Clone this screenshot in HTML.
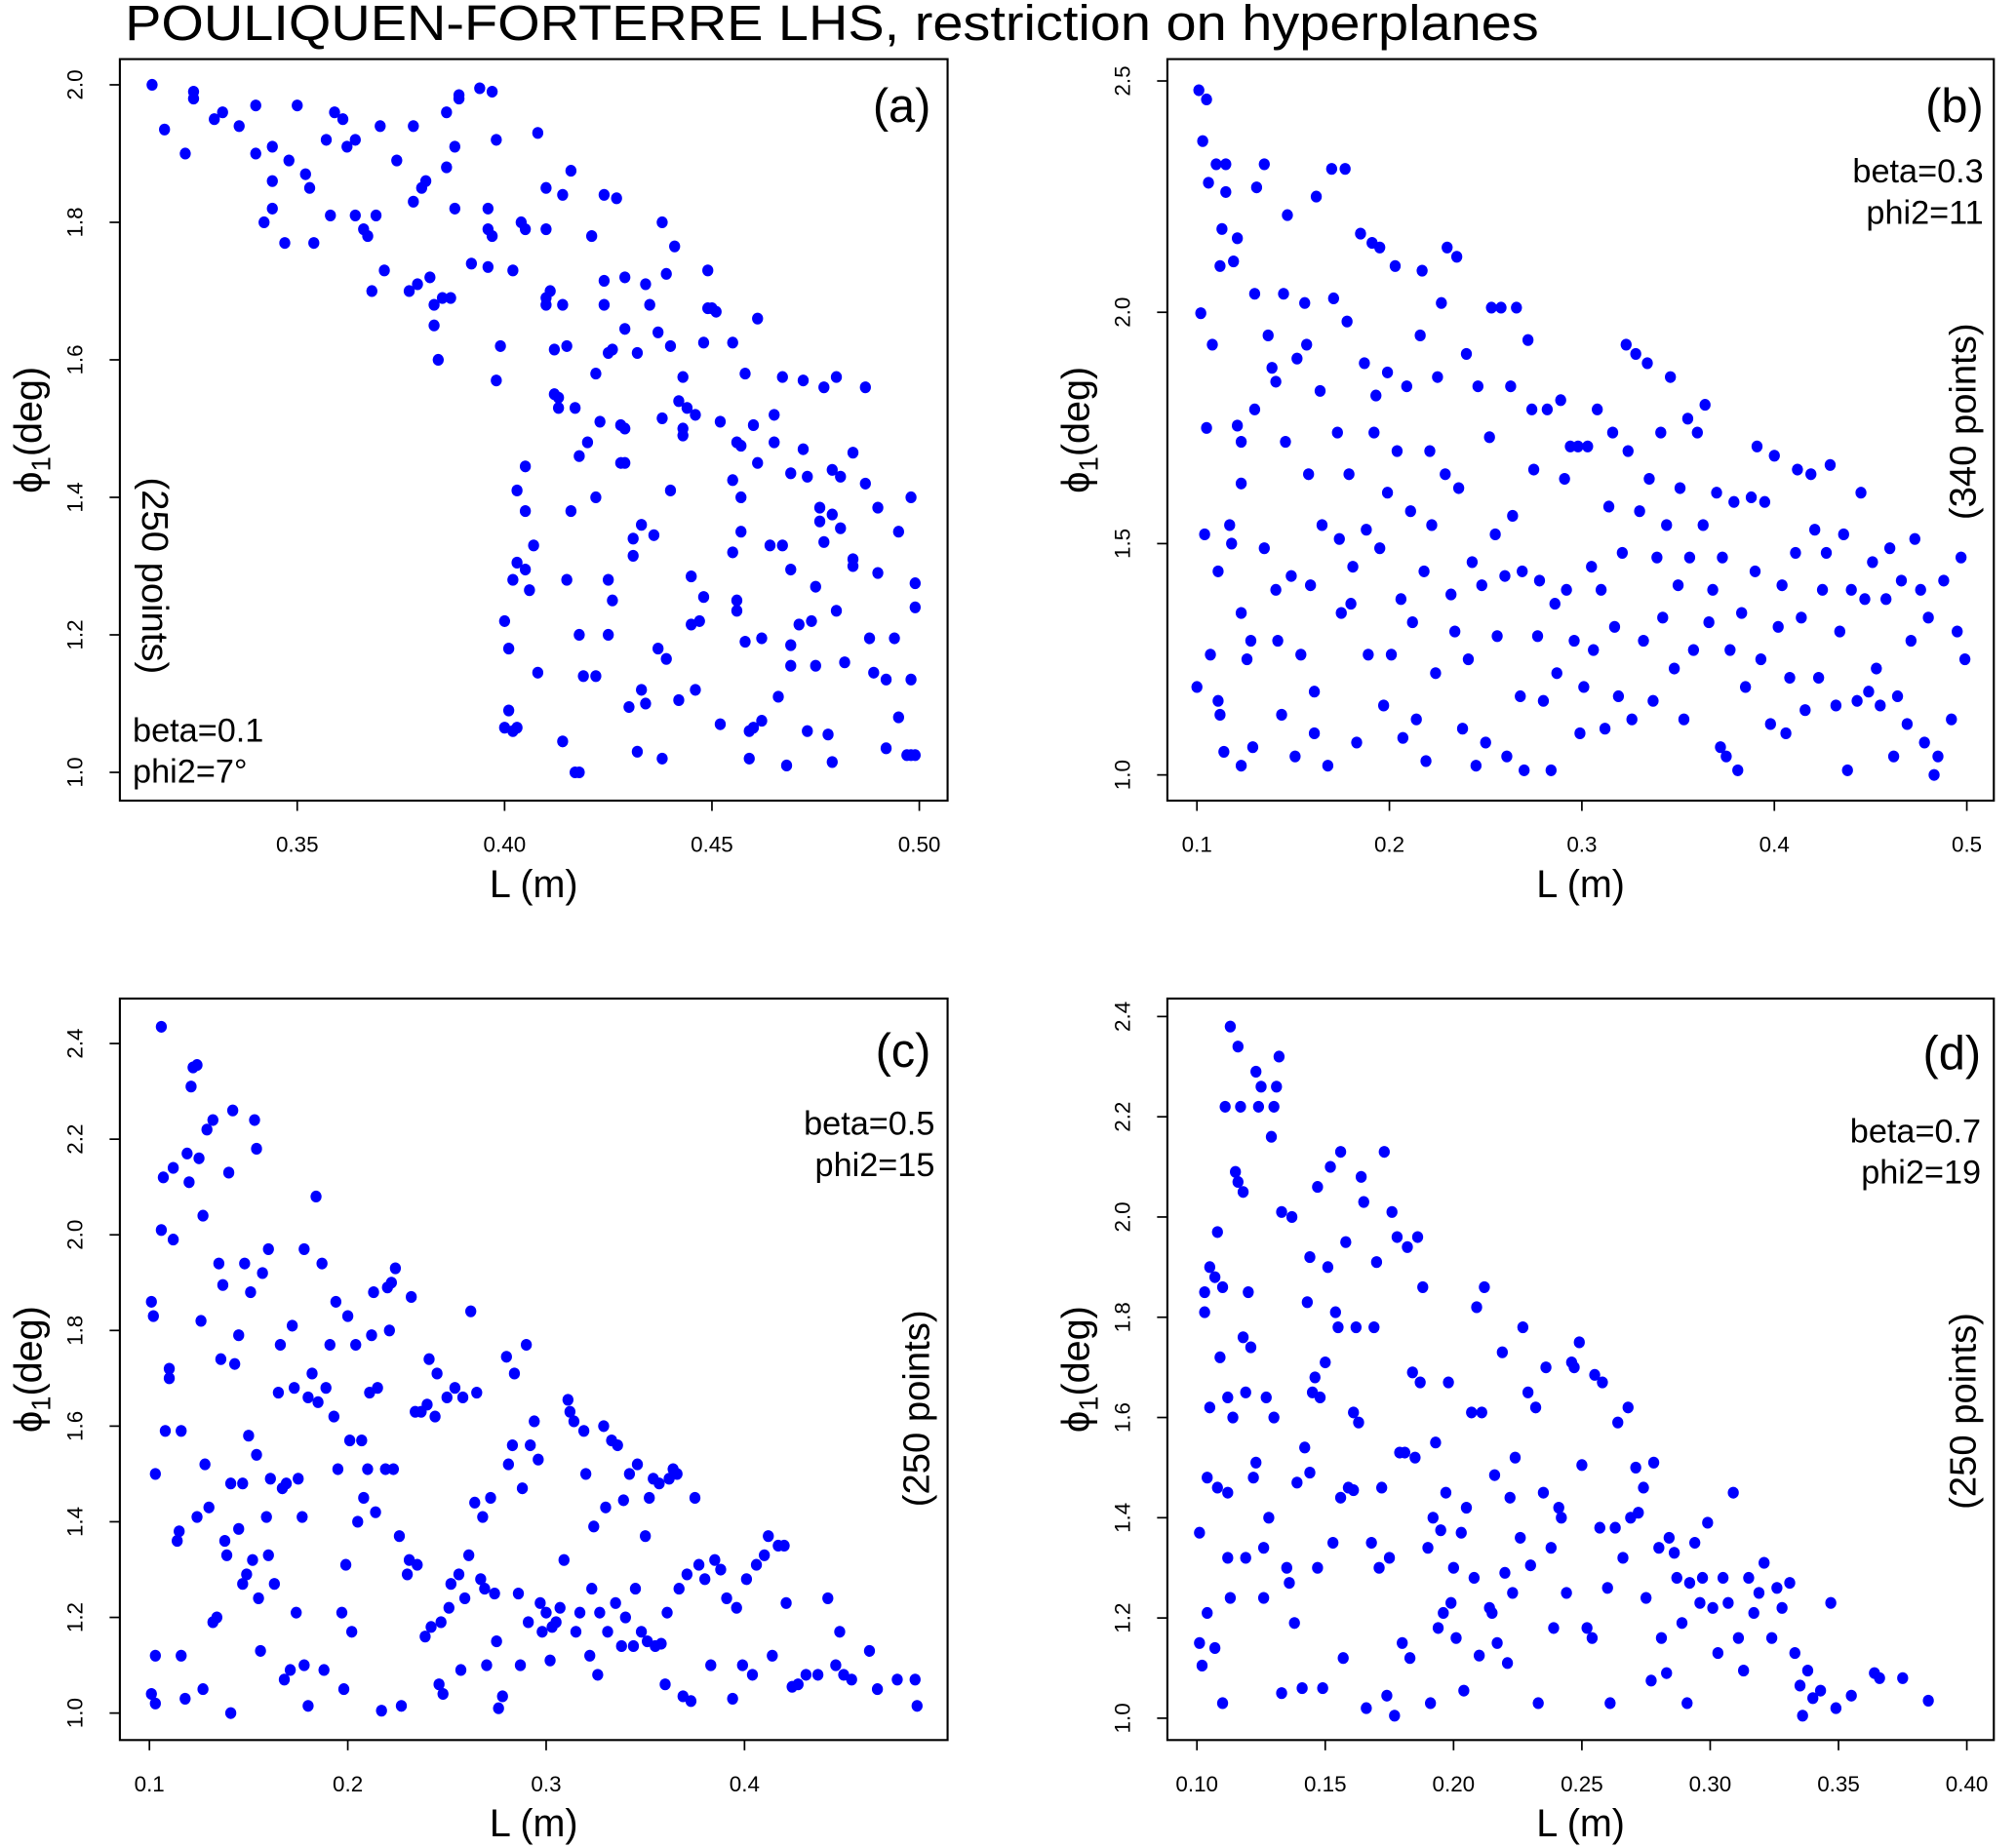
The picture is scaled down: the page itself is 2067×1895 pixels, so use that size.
<!DOCTYPE html>
<html><head><meta charset="utf-8">
<style>
html,body{margin:0;padding:0;background:#fff;}
svg{display:block;font-family:"Liberation Sans",Arial,sans-serif;}
</style></head>
<body>
<svg id="chart" width="2067" height="1895" viewBox="0 0 1568 1438" xmlns="http://www.w3.org/2000/svg">
<rect x="0" y="0" width="1568" height="1438" fill="#fff"/>
<text x="97" y="31" font-size="39" textLength="1100" lengthAdjust="spacingAndGlyphs" fill="#000">POULIQUEN-FORTERRE LHS, restriction on hyperplanes</text>
</svg>
<script>
// ---------- Panel (a) data ----------
const aL = [0.315,0.318,0.323,0.325,0.325,0.330,0.332,0.336,0.340,0.340,0.344,0.344,0.344,0.342,0.347,0.348,0.352,0.353,0.350,0.354,0.358,0.357,0.359,0.361,0.362,0.364,0.364,0.366,0.367,0.369,0.368,0.370,0.371,0.374,0.377,0.378,0.378,0.379,0.380,0.381,0.382,0.383,0.383,0.384,0.385,0.386,0.386,0.387,0.388,0.388,0.389,0.389,0.392,0.394,0.396,0.396,0.397,0.396,0.397,0.398,0.399,0.398,0.400,0.401,0.400,0.401,0.402,0.402,0.402,0.403,0.403,0.403,0.404,0.405,0.405,0.405,0.405,0.406,0.407,0.408,0.408,0.410,0.410,0.410,0.410,0.411,0.412,0.412,0.413,0.413,0.414,0.414,0.414,0.415,0.415,0.416,0.416,0.417,0.417,0.418,0.418,0.418,0.419,0.420,0.421,0.422,0.422,0.422,0.423,0.424,0.424,0.424,0.425,0.425,0.425,0.426,0.426,0.427,0.428,0.428,0.429,0.429,0.429,0.429,0.430,0.431,0.431,0.432,0.432,0.433,0.433,0.434,0.434,0.435,0.436,0.437,0.437,0.438,0.438,0.438,0.439,0.439,0.440,0.440,0.441,0.442,0.442,0.443,0.443,0.443,0.444,0.445,0.445,0.446,0.446,0.447,0.448,0.448,0.449,0.449,0.450,0.451,0.452,0.452,0.455,0.455,0.455,0.456,0.456,0.456,0.457,0.457,0.457,0.458,0.458,0.459,0.459,0.460,0.460,0.461,0.461,0.462,0.462,0.464,0.465,0.465,0.466,0.467,0.467,0.468,0.469,0.469,0.469,0.469,0.471,0.472,0.472,0.473,0.473,0.474,0.475,0.475,0.476,0.476,0.477,0.477,0.478,0.479,0.479,0.479,0.480,0.480,0.481,0.481,0.482,0.484,0.484,0.484,0.487,0.487,0.488,0.489,0.490,0.490,0.492,0.492,0.494,0.495,0.495,0.497,0.498,0.498,0.498,0.499,0.499,0.499];
const aPhi = [2.00,1.935,1.90,1.98,1.99,1.95,1.96,1.94,1.97,1.90,1.91,1.86,1.82,1.80,1.77,1.89,1.87,1.85,1.97,1.77,1.81,1.92,1.96,1.95,1.91,1.92,1.81,1.79,1.78,1.81,1.70,1.94,1.73,1.89,1.70,1.94,1.83,1.71,1.85,1.86,1.72,1.68,1.65,1.60,1.69,1.96,1.88,1.69,1.82,1.91,1.985,1.98,1.74,1.995,1.82,1.79,1.78,1.735,1.99,1.57,1.62,1.92,1.22,1.18,1.065,1.09,1.06,1.73,1.28,1.41,1.305,1.065,1.80,1.38,1.445,1.79,1.295,1.265,1.33,1.145,1.93,1.79,1.69,1.85,1.68,1.70,1.615,1.55,1.545,1.53,1.045,1.68,1.84,1.62,1.28,1.38,1.875,1.53,1.00,1.00,1.46,1.20,1.14,1.48,1.78,1.40,1.14,1.58,1.51,1.68,1.715,1.84,1.28,1.61,1.20,1.25,1.615,1.835,1.505,1.45,1.45,1.645,1.72,1.50,1.095,1.315,1.34,1.03,1.61,1.36,1.12,1.10,1.71,1.68,1.345,1.64,1.18,1.02,1.80,1.515,1.165,1.725,1.62,1.41,1.765,1.105,1.54,1.575,1.50,1.49,1.53,1.215,1.285,1.12,1.52,1.22,1.255,1.625,1.675,1.73,1.675,1.67,1.07,1.51,1.425,1.32,1.625,1.235,1.25,1.48,1.35,1.475,1.40,1.58,1.19,1.02,1.06,1.065,1.505,1.66,1.45,1.075,1.195,1.33,1.48,1.52,1.11,1.575,1.33,1.01,1.435,1.295,1.185,1.155,1.215,1.57,1.47,1.43,1.06,1.22,1.155,1.27,1.365,1.385,1.56,1.335,1.055,1.015,1.44,1.375,1.235,1.575,1.43,1.355,1.16,1.31,1.465,1.30,1.56,1.42,1.195,1.145,1.385,1.29,1.135,1.035,1.195,1.08,1.35,1.025,1.40,1.135,1.025,1.275,1.24,1.025];

// ---------- Panel (b) data ----------
const bL = [0.101,0.105,0.103,0.106,0.110,0.115,0.112,0.115,0.113,0.119,0.121,0.102,0.108,0.105,0.104,0.100,0.107,0.111,0.111,0.112,0.114,0.117,0.118,0.121,0.123,0.123,0.123,0.123,0.126,0.128,0.129,0.130,0.130,0.131,0.135,0.135,0.137,0.139,0.141,0.141,0.142,0.144,0.145,0.146,0.147,0.149,0.151,0.152,0.154,0.156,0.157,0.158,0.159,0.161,0.161,0.162,0.164,0.165,0.168,0.170,0.171,0.173,0.174,0.175,0.177,0.178,0.179,0.180,0.181,0.183,0.185,0.187,0.188,0.189,0.191,0.192,0.193,0.195,0.195,0.197,0.199,0.199,0.201,0.203,0.204,0.206,0.207,0.209,0.211,0.212,0.214,0.216,0.217,0.218,0.219,0.221,0.222,0.224,0.225,0.227,0.229,0.230,0.232,0.234,0.235,0.236,0.238,0.240,0.241,0.243,0.245,0.246,0.248,0.250,0.252,0.253,0.255,0.256,0.258,0.260,0.261,0.263,0.264,0.266,0.268,0.269,0.270,0.272,0.274,0.275,0.277,0.278,0.280,0.282,0.284,0.286,0.287,0.289,0.291,0.292,0.294,0.296,0.298,0.299,0.301,0.303,0.305,0.306,0.308,0.310,0.312,0.314,0.316,0.317,0.319,0.321,0.323,0.324,0.326,0.328,0.330,0.332,0.334,0.335,0.337,0.339,0.341,0.342,0.344,0.346,0.348,0.350,0.351,0.353,0.355,0.356,0.358,0.360,0.363,0.364,0.366,0.368,0.370,0.372,0.373,0.375,0.377,0.379,0.381,0.383,0.385,0.388,0.390,0.391,0.393,0.395,0.398,0.400,0.402,0.404,0.406,0.408,0.411,0.412,0.414,0.416,0.419,0.421,0.423,0.425,0.427,0.429,0.432,0.434,0.436,0.438,0.440,0.443,0.445,0.447,0.449,0.451,0.453,0.455,0.458,0.460,0.462,0.464,0.466,0.469,0.471,0.473,0.476,0.478,0.480,0.483,0.485,0.488,0.492,0.495,0.497,0.499];
const bPhi = [2.48,2.46,2.37,2.28,2.32,2.32,2.10,2.26,2.18,2.11,2.16,1.998,1.93,1.75,1.52,1.19,1.26,1.44,1.16,1.13,1.05,1.54,1.50,1.755,1.72,1.63,1.35,1.02,1.25,1.29,1.06,2.04,1.79,2.27,2.32,1.49,1.95,1.88,1.85,1.40,1.29,1.13,2.04,1.72,2.21,1.43,1.04,1.90,1.26,2.02,1.93,1.65,1.41,1.18,1.09,2.25,1.83,1.54,1.02,2.31,2.03,1.74,1.51,1.35,2.31,1.98,1.65,1.37,1.45,1.07,2.17,1.89,1.53,1.26,2.15,1.74,1.82,1.49,2.14,1.15,1.87,1.61,1.26,2.10,1.70,1.38,1.08,1.84,1.57,1.33,1.12,1.95,2.09,1.44,1.03,1.70,1.54,1.22,1.86,2.02,1.65,2.14,1.39,1.31,2.12,1.62,1.10,1.91,1.25,1.46,1.02,1.84,1.41,1.07,1.73,2.01,1.52,1.30,2.01,1.43,1.04,1.84,1.56,2.01,1.17,1.44,1.01,1.94,1.79,1.66,1.30,1.42,1.16,1.79,1.01,1.37,1.22,1.81,1.64,1.40,1.71,1.29,1.71,1.09,1.19,1.71,1.45,1.27,1.79,1.40,1.10,1.58,1.74,1.32,1.17,1.48,1.93,1.70,1.12,1.91,1.57,1.29,1.89,1.64,1.16,1.47,1.74,1.34,1.54,1.86,1.23,1.41,1.62,1.12,1.77,1.47,1.27,1.74,1.54,1.80,1.33,1.40,1.61,1.06,1.47,1.04,1.27,1.59,1.01,1.35,1.19,1.60,1.44,1.71,1.25,1.59,1.11,1.69,1.32,1.41,1.09,1.21,1.48,1.66,1.34,1.14,1.65,1.53,1.21,1.40,1.48,1.67,1.15,1.31,1.52,1.01,1.40,1.16,1.61,1.38,1.18,1.46,1.23,1.15,1.38,1.49,1.04,1.17,1.42,1.11,1.29,1.51,1.40,1.07,1.34,1.00,1.04,1.42,1.12,1.31,1.47,1.25];

// ---------- Panel (c) data ----------
const cL = [0.106,0.101,0.103,0.101,0.102,0.103,0.103,0.106,0.107,0.108,0.110,0.110,0.112,0.112,0.114,0.115,0.116,0.116,0.118,0.119,0.120,0.121,0.122,0.124,0.124,0.125,0.126,0.127,0.127,0.128,0.129,0.130,0.132,0.132,0.134,0.135,0.136,0.137,0.138,0.139,0.140,0.141,0.141,0.142,0.143,0.145,0.145,0.147,0.147,0.148,0.149,0.150,0.151,0.152,0.153,0.154,0.154,0.155,0.156,0.157,0.159,0.160,0.160,0.161,0.163,0.165,0.166,0.167,0.168,0.169,0.171,0.172,0.173,0.174,0.175,0.177,0.178,0.178,0.180,0.180,0.182,0.184,0.185,0.187,0.188,0.189,0.191,0.193,0.194,0.195,0.197,0.198,0.199,0.200,0.201,0.202,0.204,0.205,0.207,0.208,0.210,0.211,0.212,0.213,0.214,0.215,0.217,0.219,0.220,0.221,0.222,0.223,0.224,0.226,0.227,0.230,0.231,0.232,0.234,0.235,0.237,0.239,0.240,0.241,0.242,0.244,0.245,0.246,0.247,0.248,0.250,0.251,0.252,0.254,0.256,0.257,0.258,0.259,0.261,0.262,0.264,0.265,0.267,0.268,0.269,0.270,0.272,0.274,0.275,0.276,0.278,0.280,0.281,0.283,0.284,0.286,0.287,0.288,0.290,0.291,0.292,0.294,0.296,0.297,0.298,0.300,0.302,0.303,0.305,0.307,0.309,0.311,0.312,0.314,0.315,0.317,0.319,0.320,0.322,0.323,0.324,0.326,0.327,0.329,0.330,0.331,0.333,0.335,0.336,0.338,0.339,0.340,0.342,0.344,0.345,0.346,0.348,0.350,0.351,0.352,0.354,0.355,0.357,0.358,0.360,0.361,0.362,0.364,0.366,0.367,0.369,0.371,0.373,0.375,0.377,0.380,0.383,0.385,0.388,0.391,0.394,0.396,0.399,0.401,0.404,0.406,0.410,0.412,0.414,0.417,0.420,0.421,0.424,0.427,0.431,0.437,0.442,0.446,0.448,0.450,0.454,0.463,0.467,0.477,0.486,0.487];
const cPhi = [2.435,1.04,1.02,1.86,1.83,1.50,1.12,2.01,2.12,1.59,1.70,1.72,2.14,1.99,1.36,1.38,1.12,1.59,1.03,2.17,2.11,2.31,2.35,2.355,1.41,2.16,1.82,1.05,2.04,1.52,2.22,1.43,2.24,1.19,1.20,1.94,1.74,1.895,1.36,1.33,2.13,1.48,1.00,2.26,1.73,1.385,1.79,1.48,1.27,1.94,1.29,1.58,1.88,1.32,2.24,2.18,1.54,1.24,1.13,1.92,1.41,1.33,1.97,1.49,1.27,1.67,1.77,1.47,1.07,1.48,1.09,1.81,1.68,1.21,1.49,1.41,1.10,1.97,1.015,1.66,1.71,2.08,1.65,1.94,1.09,1.68,1.77,1.62,1.86,1.51,1.21,1.05,1.31,1.83,1.57,1.17,1.77,1.40,1.57,1.45,1.51,1.67,1.79,1.88,1.42,1.68,1.005,1.51,1.89,1.80,1.90,1.51,1.93,1.37,1.015,1.29,1.32,1.87,1.63,1.31,1.63,1.16,1.645,1.74,1.18,1.62,1.71,1.06,1.19,1.04,1.66,1.22,1.27,1.68,1.29,1.09,1.66,1.24,1.33,1.84,1.44,1.67,1.28,1.41,1.26,1.10,1.45,1.25,1.15,1.01,1.035,1.745,1.52,1.56,1.71,1.25,1.10,1.47,1.77,1.19,1.56,1.61,1.53,1.23,1.17,1.21,1.11,1.18,1.19,1.22,1.32,1.655,1.63,1.61,1.17,1.21,1.59,1.50,1.12,1.26,1.39,1.08,1.21,1.60,1.43,1.17,1.57,1.23,1.56,1.14,1.445,1.20,1.50,1.14,1.26,1.52,1.17,1.37,1.15,1.45,1.49,1.14,1.48,1.145,1.06,1.21,1.49,1.51,1.50,1.26,1.035,1.29,1.025,1.45,1.31,1.28,1.10,1.32,1.30,1.24,1.03,1.22,1.10,1.28,1.08,1.31,1.33,1.37,1.12,1.35,1.35,1.23,1.055,1.06,1.08,1.08,1.24,1.10,1.17,1.08,1.07,1.13,1.05,1.07,1.07,1.015];

// ---------- Panel (d) data ----------
const dL = [0.101,0.101,0.102,0.103,0.103,0.104,0.104,0.105,0.105,0.107,0.107,0.108,0.108,0.109,0.110,0.110,0.111,0.112,0.112,0.112,0.113,0.113,0.114,0.115,0.116,0.116,0.117,0.118,0.118,0.119,0.119,0.120,0.121,0.122,0.123,0.123,0.124,0.125,0.126,0.126,0.127,0.128,0.129,0.130,0.130,0.131,0.132,0.133,0.133,0.135,0.136,0.137,0.138,0.139,0.141,0.142,0.143,0.144,0.144,0.145,0.146,0.147,0.147,0.148,0.149,0.150,0.151,0.152,0.153,0.154,0.155,0.156,0.156,0.157,0.158,0.159,0.161,0.161,0.162,0.163,0.164,0.165,0.166,0.168,0.169,0.170,0.171,0.172,0.173,0.174,0.175,0.176,0.177,0.178,0.179,0.180,0.181,0.182,0.183,0.184,0.185,0.186,0.187,0.188,0.190,0.191,0.192,0.193,0.194,0.195,0.196,0.197,0.198,0.199,0.200,0.201,0.203,0.204,0.205,0.207,0.208,0.209,0.210,0.211,0.212,0.214,0.215,0.216,0.217,0.219,0.220,0.221,0.222,0.223,0.224,0.226,0.227,0.229,0.230,0.232,0.233,0.235,0.236,0.238,0.239,0.241,0.242,0.244,0.246,0.247,0.249,0.250,0.252,0.254,0.255,0.257,0.258,0.260,0.261,0.263,0.264,0.266,0.268,0.269,0.271,0.272,0.274,0.275,0.277,0.278,0.280,0.281,0.283,0.284,0.286,0.287,0.289,0.291,0.292,0.294,0.296,0.297,0.299,0.301,0.303,0.305,0.307,0.309,0.311,0.313,0.315,0.317,0.319,0.321,0.324,0.326,0.328,0.331,0.333,0.335,0.336,0.338,0.340,0.343,0.347,0.349,0.355,0.364,0.366,0.375,0.385];
const dPhi = [1.37,1.15,1.105,1.81,1.85,1.48,1.21,1.62,1.90,1.88,1.14,1.97,1.46,1.72,1.86,1.03,2.22,1.45,1.32,1.64,1.24,2.38,1.60,2.09,2.34,2.07,2.22,2.05,1.76,1.32,1.65,1.85,1.74,1.48,1.51,2.29,2.22,2.26,1.34,1.24,1.64,1.40,2.16,1.60,2.22,2.26,2.32,1.05,2.01,1.30,1.27,2.00,1.19,1.47,1.06,1.54,1.83,1.49,1.92,1.65,1.68,1.30,2.06,1.64,1.06,1.71,1.90,2.10,1.35,1.81,1.78,2.13,1.44,1.12,1.95,1.46,1.61,1.455,1.78,1.59,2.08,2.03,1.02,1.35,1.78,1.91,1.30,1.46,2.13,1.045,1.32,2.01,1.005,1.96,1.53,1.15,1.53,1.94,1.12,1.69,1.52,1.96,1.67,1.86,1.34,1.03,1.40,1.55,1.18,1.375,1.21,1.45,1.67,1.23,1.30,1.16,1.37,1.055,1.42,1.61,1.28,1.82,1.125,1.61,1.86,1.22,1.21,1.485,1.15,1.73,1.29,1.11,1.44,1.25,1.52,1.36,1.78,1.65,1.305,1.62,1.03,1.45,1.70,1.34,1.18,1.42,1.40,1.25,1.71,1.70,1.75,1.505,1.18,1.16,1.685,1.38,1.67,1.26,1.03,1.38,1.59,1.32,1.62,1.40,1.50,1.41,1.46,1.24,1.075,1.51,1.34,1.16,1.09,1.36,1.33,1.28,1.19,1.03,1.27,1.35,1.23,1.28,1.39,1.22,1.13,1.28,1.23,1.45,1.16,1.095,1.28,1.21,1.25,1.31,1.16,1.26,1.22,1.27,1.13,1.065,1.005,1.095,1.04,1.055,1.23,1.02,1.045,1.09,1.08,1.08,1.035];

// ---------- Tick labels ----------
const aXTicks = ["0.35","0.40","0.45","0.50"];
const aYTicks = ["1.0","1.2","1.4","1.6","1.8","2.0"];
const bXTicks = ["0.1","0.2","0.3","0.4","0.5"];
const bYTicks = ["1.0","1.5","2.0","2.5"];
const cXTicks = ["0.1","0.2","0.3","0.4"];
const cYTicks = ["1.0","1.2","1.4","1.6","1.8","2.0","2.2","2.4"];
const dXTicks = ["0.10","0.15","0.20","0.25","0.30","0.35","0.40"];
const dYTicks = ["1.0","1.2","1.4","1.6","1.8","2.0","2.2","2.4"];

const NS = "http://www.w3.org/2000/svg";
const svg = document.getElementById("chart");
function mk(tag, attrs, parent) {
  const e = document.createElementNS(NS, tag);
  for (const k in attrs) e.setAttribute(k, attrs[k]);
  (parent || svg).appendChild(e);
  return e;
}

function lin(v0, p0, v1, p1) { return v => p0 + (v - v0) * (p1 - p0) / (v1 - v0); }

const panels = [
  {id:"a", box:[93,46,737,623], sx:lin(0.35,231,0.50,715), sy:lin(1.0,601,2.0,66), L:aL, P:aPhi, xt:aXTicks, yt:aYTicks,
   letter:"(a)", letterPos:[724,95], notes:["beta=0.1","phi2=7°"], notesPos:[103,577,"start"], pts:"(250 points)", ptsPos:[118,448,90]},
  {id:"b", box:[908,46,1551,623], sx:lin(0.1,931,0.5,1530), sy:lin(1.0,603,2.5,63), L:bL, P:bPhi, xt:bXTicks, yt:bYTicks,
   letter:"(b)", letterPos:[1543,95], notes:["beta=0.3","phi2=11"], notesPos:[1543,142,"end"], pts:"(340 points)", ptsPos:[1529,328,-90]},
  {id:"c", box:[93,777,737,1354], sx:lin(0.1,116,0.4,579), sy:lin(1.0,1333,2.4,812), L:cL, P:cPhi, xt:cXTicks, yt:cYTicks,
   letter:"(c)", letterPos:[724,830], notes:["beta=0.5","phi2=15"], notesPos:[727,883,"end"], pts:"(250 points)", ptsPos:[715,1096,-90]},
  {id:"d", box:[908,777,1551,1354], sx:lin(0.10,931,0.40,1530), sy:lin(1.0,1337,2.4,791), L:dL, P:dPhi, xt:dXTicks, yt:dYTicks,
   letter:"(d)", letterPos:[1541,832], notes:["beta=0.7","phi2=19"], notesPos:[1541,889,"end"], pts:"(250 points)", ptsPos:[1529,1098,-90]}
];

panels.forEach(p => {
  const g = mk("g", {});
  
  
  const [x0,y0,x1,y1] = p.box;
  const box = mk("rect", {x:x0, y:y0, width:x1-x0, height:y1-y0, fill:"none", stroke:"#000", "stroke-width":1.6}, g);
  
  

  const xa = mk("g", {}, g);
  
  
  p.xt.forEach(t => {
    const px = p.sx(parseFloat(t));
    mk("line", {x1:px, y1:y1, x2:px, y2:y1+8, stroke:"#000", "stroke-width":1.3}, xa);
    const tx = mk("text", {x:px, y:y1+40, "font-size":17, "text-anchor":"middle"}, xa);
    
    
    tx.textContent = t;
  });
  const ya = mk("g", {}, g);
  
  
  p.yt.forEach(t => {
    const py = p.sy(parseFloat(t));
    mk("line", {x1:x0-8, y1:py, x2:x0, y2:py, stroke:"#000", "stroke-width":1.3}, ya);
    const lx = x0 - 29;
    const tx = mk("text", {x:lx, y:py, "font-size":17, "text-anchor":"middle", transform:`rotate(-90 ${lx} ${py})`}, ya);
    
    
    tx.textContent = t;
  });
  const xc = (x0+x1)/2;
  const xt = mk("text", {x:xc, y:y1+75, "font-size":30, "text-anchor":"middle"}, g);
  
  
  xt.textContent = "L (m)";
  const yc = (y0+y1)/2, tx0 = x0 - 61;
  const yt = mk("text", {x:tx0, y:yc, "font-size":30, "text-anchor":"middle", transform:`rotate(-90 ${tx0} ${yc})`}, g);
  
  
  yt.appendChild(document.createTextNode("ϕ"));
  const sub = mk("tspan", {"font-size":21, dy:7}, yt);
  sub.textContent = "1";
  const rest = mk("tspan", {dy:-7}, yt);
  rest.textContent = "(deg)";

  const pg = mk("g", {fill:"#0000ff"}, g);
  
  
  for (let i = 0; i < p.L.length; i++) {
    const c = mk("ellipse", {cx:p.sx(p.L[i]), cy:p.sy(p.P[i]), rx:4.3, ry:4.6}, pg);
    
    
  }

  const lt = mk("text", {x:p.letterPos[0], y:p.letterPos[1], "font-size":37, "text-anchor":"end"}, g);
  
  
  lt.textContent = p.letter;
  p.notes.forEach((n, i) => {
    const t = mk("text", {x:p.notesPos[0], y:p.notesPos[1] + i*32, "font-size":26, "text-anchor":p.notesPos[2]}, g);
    
    
    t.textContent = n;
  });
  const [ppx, ppy, rot] = p.ptsPos;
  const pt = mk("text", {x:ppx, y:ppy, "font-size":29, "text-anchor":"middle", transform:`rotate(${rot} ${ppx} ${ppy})`, "dominant-baseline":"middle"}, g);
  
  
  pt.textContent = p.pts;
});
</script>
</body></html>
